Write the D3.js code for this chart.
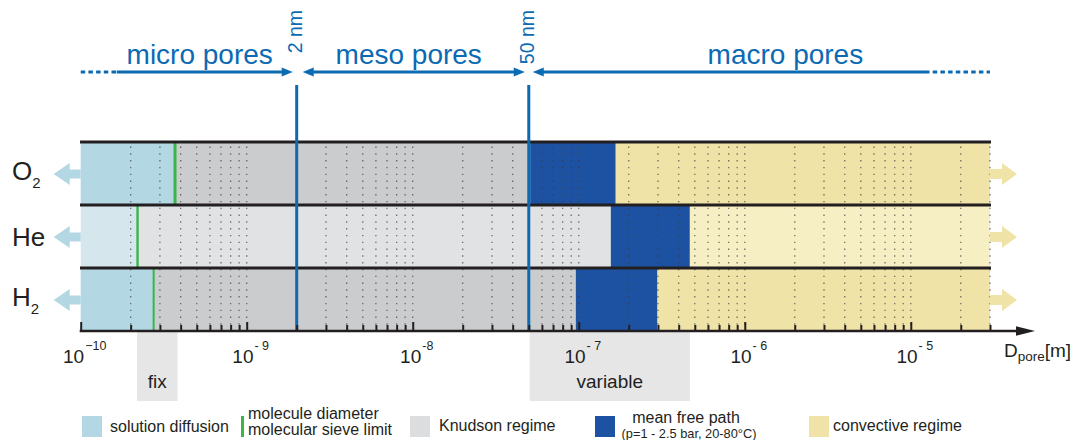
<!DOCTYPE html>
<html><head><meta charset="utf-8">
<script src="https://cdn.jsdelivr.net/npm/d3@7"></script>
<style>
html,body{margin:0;padding:0;background:#fff;}
svg{display:block;font-family:"Liberation Sans",Arial,Helvetica,sans-serif;}
</style></head><body>
<svg id="chart" width="1072" height="440"></svg>
<script>
// gases, top to bottom (main text + subscript)
const gases = ["O2", "He", "H2"];
const gasLabels = [["O", "2"], ["He", ""], ["H", "2"]];
// kinetic molecule diameter = molecular sieve limit (m)
const moleculeDiameter = [3.7e-10, 2.2e-10, 2.75e-10];
// mean free path range (m), p = 1-2.5 bar, 20-80 °C
const mfpLow = [5.1e-8, 1.56e-7, 9.6e-8];
const mfpHigh = [1.67e-7, 4.67e-7, 2.98e-7];
// pore diameter range on the axis (m)
const poreRange = [1e-10, 3e-5];
// IUPAC pore class limits (m)
const poreLimits = [2e-9, 5e-8];
const poreLimitLabels = ["2 nm", "50 nm"];
const poreClasses = ["micro pores", "meso pores", "macro pores"];
// axis
const majorTicks = [1e-10, 1e-9, 1e-8, 1e-7, 1e-6, 1e-5];
const majorExponents = ["\u221210", "- 9", "-8", "- 7", "- 6", "- 5"];
const legendLabels = ["solution diffusion", "molecule diameter", "molecular sieve limit",
  "Knudson regime", "mean free path", "(p=1 - 2.5 bar, 20-80\u00B0C)", "convective regime"];

const svg = d3.select("#chart");
const ink = "#231f20", blue = "#0c6ab3", green = "#3ab54a";
const palette = {
  solution: ["#b3d8e4", "#d6e6ed"],
  knudsen: ["#cbccce", "#e1e2e4"],
  mfp: ["#1d52a3", "#1d52a3"],
  convective: ["#efe3a7", "#f6efc3"]
};

const x = d3.scaleLog().domain(poreRange).range([80.7, 990]);
const y = d3.scaleBand().domain(gases).range([142, 331]);
const axisY = 331;

// ---- regime bands per gas
const segs = [];
gases.forEach((g, i) => {
  const tone = i === 1 ? 1 : 0;
  segs.push({g, a: poreRange[0], b: moleculeDiameter[i], c: palette.solution[tone]});
  segs.push({g, a: moleculeDiameter[i], b: mfpLow[i], c: palette.knudsen[tone]});
  segs.push({g, a: mfpLow[i], b: mfpHigh[i], c: palette.mfp[tone]});
  segs.push({g, a: mfpHigh[i], b: poreRange[1], c: palette.convective[tone]});
});
svg.append("g").selectAll("rect").data(segs).join("rect")
  .attr("x", d => x(d.a)).attr("width", d => x(d.b) - x(d.a))
  .attr("y", d => y(d.g)).attr("height", y.bandwidth())
  .attr("fill", d => d.c);

// ---- "fix" and "variable" ranges below the axis
const fixRange = [d3.min(moleculeDiameter), d3.max(moleculeDiameter)];
const varRange = [d3.min(mfpLow), d3.max(mfpHigh)];
const boxes = [
  {x0: x(fixRange[0]) - 0.5, x1: x(fixRange[1]) + 2.5, t: "fix"},
  {x0: x(varRange[0]) - 0.5, x1: x(varRange[1]), t: "variable"}
];
const bx = svg.append("g");
bx.selectAll("rect").data(boxes).join("rect")
  .attr("x", d => d.x0).attr("width", d => d.x1 - d.x0)
  .attr("y", axisY + 1).attr("height", 69).attr("fill", "#e6e6e6");
bx.selectAll("text").data(boxes).join("text")
  .attr("x", d => (d.x0 + d.x1) / 2).attr("y", 388)
  .attr("text-anchor", "middle").attr("font-size", 19).attr("fill", ink)
  .text(d => d.t);

// ---- dotted grid at every tick of the log scale
const allTicks = x.ticks().filter(v => v > poreRange[0] * 1.001 && v <= poreRange[1] * 1.001);
svg.append("g").selectAll("line").data(allTicks).join("line")
  .attr("x1", d => x(d)).attr("x2", d => x(d))
  .attr("y1", 146.5).attr("y2", axisY - 2)
  .attr("stroke", "#3c3c3c").attr("stroke-opacity", 0.7)
  .attr("stroke-width", 1.3).attr("stroke-dasharray", "1.4 5.4");

// ---- molecule diameter lines
const greenW = [3, 2.4, 2];
svg.append("g").selectAll("line").data(gases).join("line")
  .attr("x1", (g, i) => x(moleculeDiameter[i])).attr("x2", (g, i) => x(moleculeDiameter[i]))
  .attr("y1", g => y(g)).attr("y2", g => y(g) + y.bandwidth())
  .attr("stroke", green).attr("stroke-width", (g, i) => greenW[i]);

// ---- row separators
svg.append("g").selectAll("line").data(gases).join("line")
  .attr("x1", x(poreRange[0]) - 0.7).attr("x2", x(poreRange[1]) + 1)
  .attr("y1", g => y(g)).attr("y2", g => y(g))
  .attr("stroke", ink).attr("stroke-width", 3);

// ---- pore class limits
svg.append("g").selectAll("line").data(poreLimits).join("line")
  .attr("x1", d => x(d)).attr("x2", d => x(d))
  .attr("y1", 85).attr("y2", axisY)
  .attr("stroke", blue).attr("stroke-width", 3);
svg.append("g").selectAll("text").data(poreLimitLabels).join("text")
  .attr("transform", (t, i) => `translate(${x(poreLimits[i]) + 5},10) rotate(-90)`)
  .attr("text-anchor", "end").attr("font-size", 19.5).attr("fill", blue)
  .text(t => t);

// ---- pore class arrows
const arrowY = 72;
function head(px, dir) {
  // dir = +1 points right, -1 points left
  return `M${px},${arrowY} L${px - dir * 11},${arrowY - 4.5} L${px - dir * 11},${arrowY + 4.5} Z`;
}
const classG = svg.append("g");
const gap = 4;
const spans = [
  [x(poreRange[0]), x(poreLimits[0]) - gap],
  [x(poreLimits[0]) + gap + 2, x(poreLimits[1]) - gap],
  [x(poreLimits[1]) + gap, x(poreRange[1])]
];
// micro
classG.append("line").attr("x1", spans[0][0]).attr("x2", spans[0][0] + 36).attr("y1", arrowY).attr("y2", arrowY)
  .attr("stroke", blue).attr("stroke-width", 3).attr("stroke-dasharray", "4.5 3.2");
classG.append("line").attr("x1", spans[0][0] + 36).attr("x2", spans[0][1] - 8).attr("y1", arrowY).attr("y2", arrowY)
  .attr("stroke", blue).attr("stroke-width", 3);
classG.append("path").attr("d", head(spans[0][1], 1)).attr("fill", blue);
// meso
classG.append("line").attr("x1", spans[1][0] + 8).attr("x2", spans[1][1] - 8).attr("y1", arrowY).attr("y2", arrowY)
  .attr("stroke", blue).attr("stroke-width", 3);
classG.append("path").attr("d", head(spans[1][0], -1)).attr("fill", blue);
classG.append("path").attr("d", head(spans[1][1], 1)).attr("fill", blue);
// macro
classG.append("line").attr("x1", spans[2][0] + 8).attr("x2", spans[2][1] - 65).attr("y1", arrowY).attr("y2", arrowY)
  .attr("stroke", blue).attr("stroke-width", 3);
classG.append("line").attr("x1", spans[2][1] - 65).attr("x2", spans[2][1]).attr("y1", arrowY).attr("y2", arrowY)
  .attr("stroke", blue).attr("stroke-width", 3).attr("stroke-dasharray", "4.5 3.2");
classG.append("path").attr("d", head(spans[2][0], -1)).attr("fill", blue);
const labelShift = [13, -5, 24];
classG.selectAll("text").data(poreClasses).join("text")
  .attr("x", (t, i) => (spans[i][0] + spans[i][1]) / 2 + labelShift[i])
  .attr("y", 64).attr("text-anchor", "middle")
  .attr("font-size", 28).attr("fill", blue).text(t => t);

// ---- side arrows: solution diffusion (left) and convective flow (right)
const side = svg.append("g");
gases.forEach((g, i) => {
  const cy = y(g) + y.bandwidth() / 2 + 0.5;
  const lx = x(poreRange[0]), rx = x(poreRange[1]);
  side.append("path")
    .attr("d", `M${lx},${cy - 4.5} L${lx - 11},${cy - 4.5} L${lx - 11},${cy - 11} L${lx - 27},${cy} L${lx - 11},${cy + 11} L${lx - 11},${cy + 4.5} L${lx},${cy + 4.5} Z`)
    .attr("fill", palette.solution[0]);
  side.append("path")
    .attr("d", `M${rx},${cy - 5} L${rx + 12},${cy - 5} L${rx + 12},${cy - 11} L${rx + 27},${cy} L${rx + 12},${cy + 11} L${rx + 12},${cy + 5} L${rx},${cy + 5} Z`)
    .attr("fill", palette.convective[0]);
  const t = side.append("text")
    .attr("x", 12).attr("y", cy + (gasLabels[i][1] ? 6 : 8.5))
    .attr("font-size", 26).attr("fill", ink);
  t.append("tspan").text(gasLabels[i][0]);
  if (gasLabels[i][1]) t.append("tspan").attr("dy", 7.5).attr("font-size", 15).text(gasLabels[i][1]);
});

// ---- x axis
const ax = svg.append("g").attr("transform", `translate(0,${axisY})`);
const minorTicks = allTicks.filter(v => !majorTicks.some(m => Math.abs(m - v) / m < 1e-6));
ax.append("g").call(d3.axisBottom(x).tickValues(minorTicks).tickSize(-6).tickFormat(""))
  .call(g => g.select(".domain").remove())
  .call(g => g.selectAll("line").attr("stroke", ink).attr("stroke-width", 2));
ax.append("g").call(d3.axisBottom(x).tickValues(majorTicks).tickSize(-9).tickFormat(""))
  .call(g => g.select(".domain").remove())
  .call(g => g.selectAll("line").attr("stroke", ink).attr("stroke-width", 2));
ax.append("line").attr("x1", x(poreRange[0]) - 1).attr("x2", 1020).attr("y1", 0).attr("y2", 0)
  .attr("stroke", ink).attr("stroke-width", 2.5);
ax.append("path").attr("d", "M1016,-4.8 L1035,0 L1016,4.8 Z").attr("fill", ink);

const lbl = svg.append("g").selectAll("text").data(majorTicks).join("text")
  .attr("x", d => x(d) + 4).attr("y", 363)
  .attr("text-anchor", "middle").attr("fill", ink).attr("font-size", 19);
lbl.append("tspan").text("10");
lbl.append("tspan").attr("dy", -13).attr("dx", 1).attr("font-size", 12.5)
  .text((d, i) => majorExponents[i]);

const dl = svg.append("text").attr("x", 1004).attr("y", 357).attr("fill", ink).attr("font-size", 19);
dl.append("tspan").text("D");
dl.append("tspan").attr("dy", 3.5).attr("font-size", 13.5).text("pore");
dl.append("tspan").attr("dy", -3.5).text("[m]");

// ---- legend
const lg = svg.append("g").attr("fill", ink).attr("font-size", 16);
lg.append("rect").attr("x", 82).attr("y", 416).attr("width", 20).attr("height", 21).attr("fill", palette.solution[0]);
lg.append("text").attr("x", 110).attr("y", 431.5).text(legendLabels[0]);
lg.append("rect").attr("x", 241).attr("y", 416).attr("width", 3).attr("height", 21).attr("fill", green);
lg.append("text").attr("x", 248).attr("y", 418.5).text(legendLabels[1]);
lg.append("text").attr("x", 248).attr("y", 434.5).text(legendLabels[2]);
lg.append("rect").attr("x", 410).attr("y", 416).attr("width", 20).attr("height", 21).attr("fill", "#dcdddf");
lg.append("text").attr("x", 439).attr("y", 431).text(legendLabels[3]);
lg.append("rect").attr("x", 595).attr("y", 416).attr("width", 20).attr("height", 21).attr("fill", palette.mfp[0]);
lg.append("text").attr("x", 686).attr("y", 423).attr("text-anchor", "middle").text(legendLabels[4]);
lg.append("text").attr("x", 689).attr("y", 438).attr("text-anchor", "middle").attr("font-size", 12.8).text(legendLabels[5]);
lg.append("rect").attr("x", 809).attr("y", 416).attr("width", 20).attr("height", 21).attr("fill", palette.convective[0]);
lg.append("text").attr("x", 833).attr("y", 430.5).text(legendLabels[6]);
</script>
</body></html>
